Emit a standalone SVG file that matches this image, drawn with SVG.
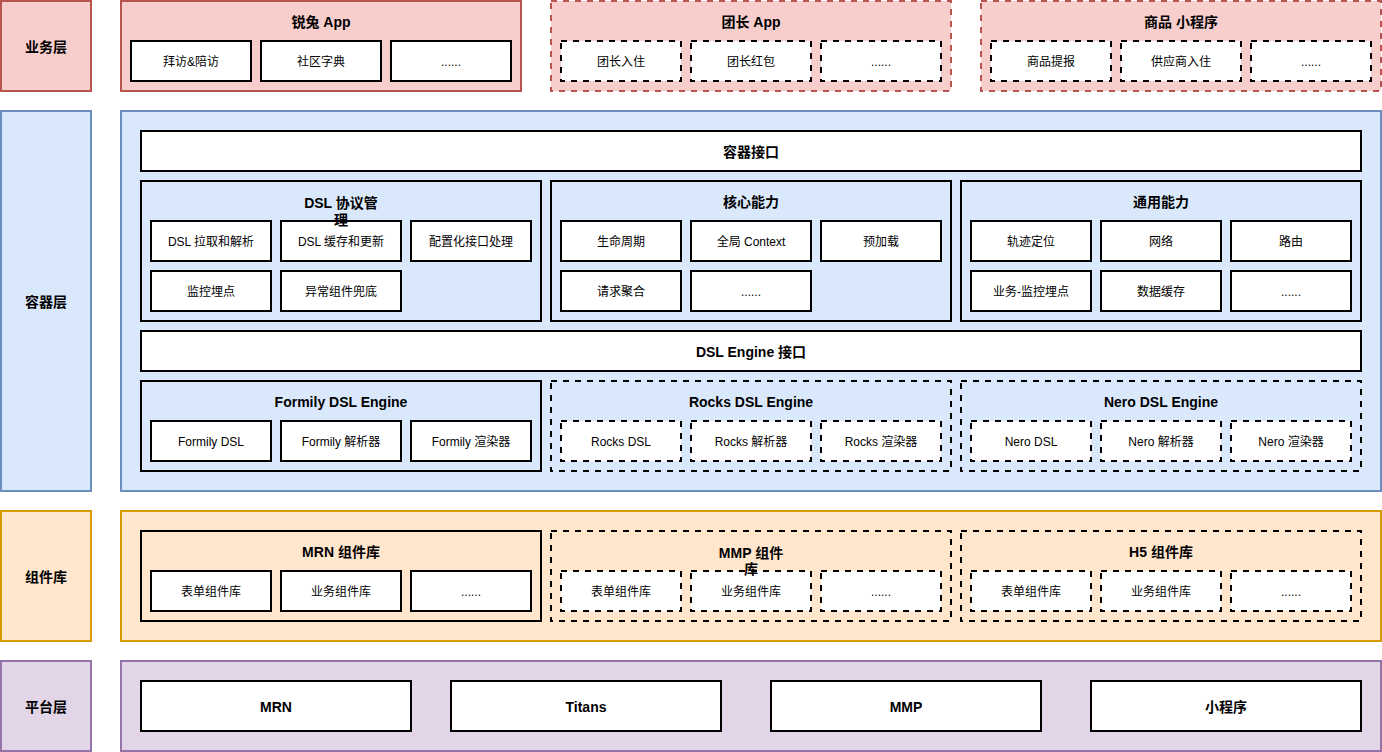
<svg xmlns="http://www.w3.org/2000/svg" width="1382" height="752" viewBox="0 0 1382 752">
<style>
text{font-family:"Liberation Sans","Noto Sans CJK SC",sans-serif;text-anchor:middle;dominant-baseline:central;fill:#000}
.t{font-size:14px;font-weight:bold}
.s{font-size:12px}
.red{fill:#f8cecc;stroke:#b85450;stroke-width:2}
.blue{fill:#dae8fc;stroke:#6c8ebf;stroke-width:2}
.org{fill:#ffe6cc;stroke:#d79b00;stroke-width:2}
.pur{fill:#e1d5e7;stroke:#9673a6;stroke-width:2}
.dr{stroke-dasharray:6 6}
.w{fill:#fff;stroke:#000;stroke-width:2}
.gb{fill:#dae8fc;stroke:#000;stroke-width:2}
.go{fill:#ffe6cc;stroke:#000;stroke-width:2}
.d{stroke-dasharray:6 6}
</style>
<g id="labels">
<g id="l-biz"><rect class="red" x="1" y="1" width="90" height="90"/><text class="t" x="46" y="47">业务层</text></g>
<g id="l-container"><rect class="blue" x="1" y="111" width="90" height="380"/><text class="t" x="46" y="302">容器层</text></g>
<g id="l-comp"><rect class="org" x="1" y="511" width="90" height="130"/><text class="t" x="46" y="577">组件库</text></g>
<g id="l-plat"><rect class="pur" x="1" y="661" width="90" height="90"/><text class="t" x="46" y="707">平台层</text></g>
</g>
<g id="biz">
<g id="ruitu"><rect class="red" x="121" y="1" width="400" height="90"/><text class="t" x="321" y="22">锐兔 App</text>
<rect class="w" x="131" y="41" width="120" height="40"/><text class="s" x="191" y="62">拜访&amp;陪访</text>
<rect class="w" x="261" y="41" width="120" height="40"/><text class="s" x="321" y="62">社区字典</text>
<rect class="w" x="391" y="41" width="120" height="40"/><text class="s" x="451" y="62">......</text></g>
<g id="tuanzhang"><rect class="red dr" x="551" y="1" width="400" height="90"/><text class="t" x="751" y="22">团长 App</text>
<rect class="w d" x="561" y="41" width="120" height="40"/><text class="s" x="621" y="62">团长入住</text>
<rect class="w d" x="691" y="41" width="120" height="40"/><text class="s" x="751" y="62">团长红包</text>
<rect class="w d" x="821" y="41" width="120" height="40"/><text class="s" x="881" y="62">......</text></g>
<g id="goods"><rect class="red dr" x="981" y="1" width="400" height="90"/><text class="t" x="1181" y="22">商品 小程序</text>
<rect class="w d" x="991" y="41" width="120" height="40"/><text class="s" x="1051" y="62">商品提报</text>
<rect class="w d" x="1121" y="41" width="120" height="40"/><text class="s" x="1181" y="62">供应商入住</text>
<rect class="w d" x="1251" y="41" width="120" height="40"/><text class="s" x="1311" y="62">......</text></g>
</g>
<g id="container">
<rect class="blue" x="121" y="111" width="1260" height="380"/>
<g id="iface"><rect class="w" x="141" y="131" width="1220" height="40"/><text class="t" x="751" y="152">容器接口</text></g>
<g id="dslmgr"><rect class="gb" x="141" y="181" width="400" height="140"/>
<rect class="w" x="151" y="221" width="120" height="40"/><text class="s" x="211" y="242">DSL 拉取和解析</text>
<rect class="w" x="281" y="221" width="120" height="40"/><text class="s" x="341" y="242">DSL 缓存和更新</text>
<rect class="w" x="411" y="221" width="120" height="40"/><text class="s" x="471" y="242">配置化接口处理</text>
<rect class="w" x="151" y="271" width="120" height="40"/><text class="s" x="211" y="292">监控埋点</text>
<rect class="w" x="281" y="271" width="120" height="40"/><text class="s" x="341" y="292">异常组件兜底</text>
<text class="t" x="341" y="203">DSL 协议管</text><text class="t" x="341" y="220">理</text></g>
<g id="core"><rect class="gb" x="551" y="181" width="400" height="140"/><text class="t" x="751" y="202">核心能力</text>
<rect class="w" x="561" y="221" width="120" height="40"/><text class="s" x="621" y="242">生命周期</text>
<rect class="w" x="691" y="221" width="120" height="40"/><text class="s" x="751" y="242">全局 Context</text>
<rect class="w" x="821" y="221" width="120" height="40"/><text class="s" x="881" y="242">预加载</text>
<rect class="w" x="561" y="271" width="120" height="40"/><text class="s" x="621" y="292">请求聚合</text>
<rect class="w" x="691" y="271" width="120" height="40"/><text class="s" x="751" y="292">......</text></g>
<g id="common"><rect class="gb" x="961" y="181" width="400" height="140"/><text class="t" x="1161" y="202">通用能力</text>
<rect class="w" x="971" y="221" width="120" height="40"/><text class="s" x="1031" y="242">轨迹定位</text>
<rect class="w" x="1101" y="221" width="120" height="40"/><text class="s" x="1161" y="242">网络</text>
<rect class="w" x="1231" y="221" width="120" height="40"/><text class="s" x="1291" y="242">路由</text>
<rect class="w" x="971" y="271" width="120" height="40"/><text class="s" x="1031" y="292">业务-监控埋点</text>
<rect class="w" x="1101" y="271" width="120" height="40"/><text class="s" x="1161" y="292">数据缓存</text>
<rect class="w" x="1231" y="271" width="120" height="40"/><text class="s" x="1291" y="292">......</text></g>
<g id="engine-iface"><rect class="w" x="141" y="331" width="1220" height="40"/><text class="t" x="751" y="352">DSL Engine 接口</text></g>
<g id="formily"><rect class="gb" x="141" y="381" width="400" height="90"/><text class="t" x="341" y="402">Formily DSL Engine</text>
<rect class="w" x="151" y="421" width="120" height="40"/><text class="s" x="211" y="442">Formily DSL</text>
<rect class="w" x="281" y="421" width="120" height="40"/><text class="s" x="341" y="442">Formily 解析器</text>
<rect class="w" x="411" y="421" width="120" height="40"/><text class="s" x="471" y="442">Formily 渲染器</text></g>
<g id="rocks"><rect class="gb d" x="551" y="381" width="400" height="90"/><text class="t" x="751" y="402">Rocks DSL Engine</text>
<rect class="w d" x="561" y="421" width="120" height="40"/><text class="s" x="621" y="442">Rocks DSL</text>
<rect class="w d" x="691" y="421" width="120" height="40"/><text class="s" x="751" y="442">Rocks 解析器</text>
<rect class="w d" x="821" y="421" width="120" height="40"/><text class="s" x="881" y="442">Rocks 渲染器</text></g>
<g id="nero"><rect class="gb d" x="961" y="381" width="400" height="90"/><text class="t" x="1161" y="402">Nero DSL Engine</text>
<rect class="w d" x="971" y="421" width="120" height="40"/><text class="s" x="1031" y="442">Nero DSL</text>
<rect class="w d" x="1101" y="421" width="120" height="40"/><text class="s" x="1161" y="442">Nero 解析器</text>
<rect class="w d" x="1231" y="421" width="120" height="40"/><text class="s" x="1291" y="442">Nero 渲染器</text></g>
</g>
<g id="comp">
<rect class="org" x="121" y="511" width="1260" height="130"/>
<g id="mrn-lib"><rect class="go" x="141" y="531" width="400" height="90"/><text class="t" x="341" y="552">MRN 组件库</text>
<rect class="w" x="151" y="571" width="120" height="40"/><text class="s" x="211" y="592">表单组件库</text>
<rect class="w" x="281" y="571" width="120" height="40"/><text class="s" x="341" y="592">业务组件库</text>
<rect class="w" x="411" y="571" width="120" height="40"/><text class="s" x="471" y="592">......</text></g>
<g id="mmp-lib"><rect class="go d" x="551" y="531" width="400" height="90"/>
<rect class="w d" x="561" y="571" width="120" height="40"/><text class="s" x="621" y="592">表单组件库</text>
<rect class="w d" x="691" y="571" width="120" height="40"/><text class="s" x="751" y="592">业务组件库</text>
<rect class="w d" x="821" y="571" width="120" height="40"/><text class="s" x="881" y="592">......</text>
<text class="t" x="751" y="553">MMP 组件</text><text class="t" x="751" y="569">库</text></g>
<g id="h5-lib"><rect class="go d" x="961" y="531" width="400" height="90"/><text class="t" x="1161" y="552">H5 组件库</text>
<rect class="w d" x="971" y="571" width="120" height="40"/><text class="s" x="1031" y="592">表单组件库</text>
<rect class="w d" x="1101" y="571" width="120" height="40"/><text class="s" x="1161" y="592">业务组件库</text>
<rect class="w d" x="1231" y="571" width="120" height="40"/><text class="s" x="1291" y="592">......</text></g>
</g>
<g id="platform">
<rect class="pur" x="121" y="661" width="1260" height="90"/>
<g id="p-mrn"><rect class="w" x="141" y="681" width="270" height="50"/><text class="t" x="276" y="707">MRN</text></g>
<g id="p-titans"><rect class="w" x="451" y="681" width="270" height="50"/><text class="t" x="586" y="707">Titans</text></g>
<g id="p-mmp"><rect class="w" x="771" y="681" width="270" height="50"/><text class="t" x="906" y="707">MMP</text></g>
<g id="p-mini"><rect class="w" x="1091" y="681" width="270" height="50"/><text class="t" x="1226" y="707">小程序</text></g>
</g>
<g id="connectors"/>
</svg>
